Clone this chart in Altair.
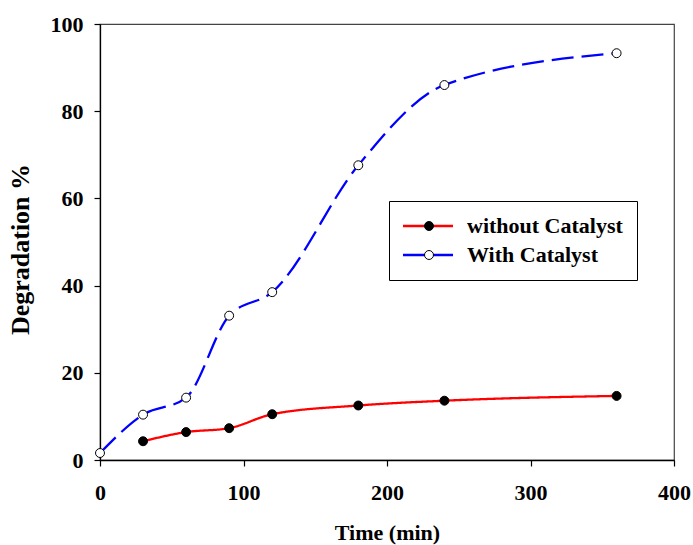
import altair as alt
import pandas as pd

# ---- data ----
series_names = ["without Catalyst", "With Catalyst"]
point_keys = ["pt_without", "pt_with"]
time_without = [30, 60, 90, 120, 180, 240, 360]
deg_without = [4.3, 6.4, 7.3, 10.5, 12.5, 13.6, 14.7]
time_with = [0, 30, 60, 90, 120, 180, 240, 360]
deg_with = [1.6, 10.4, 14.3, 33.1, 38.5, 67.6, 86.0, 93.3]
x_ticks = [0, 100, 200, 300, 400]
y_ticks = [0, 20, 40, 60, 80, 100]

rows = []
for t, v in zip(time_without, deg_without):
    rows.append({"time": t, "deg": v, "series": series_names[0], "series_pt": point_keys[0]})
for t, v in zip(time_with, deg_with):
    rows.append({"time": t, "deg": v, "series": series_names[1], "series_pt": point_keys[1]})
df = pd.DataFrame(rows)

FONT = "Liberation Serif"

x = alt.X(
    "time:Q",
    scale=alt.Scale(domain=[0, 400], nice=False, zero=False),
    axis=alt.Axis(
        values=x_ticks, title="Time (min)", tickSize=6, labelPadding=16,
        labelFlush=False,
        titleX=287, titleY=79, titleBaseline="alphabetic", titleAlign="center",
    ),
)
y = alt.Y(
    "deg:Q",
    scale=alt.Scale(domain=[0, 100], nice=False),
    axis=alt.Axis(
        values=y_ticks, title="Degradation %", tickSize=6, labelPadding=11,
        labelFlush=False,
        titleX=-72, titleY=225, titleAngle=270, titleBaseline="alphabetic",
        titleAlign="center", titleFontSize=26,
    ),
)

lines = alt.Chart(df).mark_line(interpolate="monotone", strokeWidth=2.3).encode(
    x=x,
    y=y,
    stroke=alt.Stroke(
        "series:N",
        scale=alt.Scale(domain=series_names, range=["#ff0000", "#0000ff"]),
        legend=alt.Legend(
            title=None, orient="none", legendX=289, legendY=177,
            symbolType="M-5,0H5", symbolSize=100, symbolStrokeWidth=2.5,
            symbolDash=[1, 0],
            symbolOffset=14, labelOffset=28, padding=14, rowPadding=7,
            strokeColor="black", fillColor="white",
            labelFont=FONT, labelFontSize=22, labelFontWeight="bold",
            labelColor="black", labelLimit=400,
        ),
    ),
    strokeDash=alt.StrokeDash(
        "series:N",
        scale=alt.Scale(domain=series_names, range=[[1, 0], [22, 8]]),
        legend=None,
    ),
)

points = alt.Chart(df).mark_point(
    shape="circle", filled=True, size=80, stroke="black", strokeWidth=1,
    opacity=1, fillOpacity=1,
).encode(
    x=x,
    y=y,
    fill=alt.Fill(
        "series_pt:N",
        scale=alt.Scale(domain=point_keys, range=["black", "white"]),
        legend=alt.Legend(
            title=None, orient="none", legendX=289, legendY=177,
            symbolType="circle", symbolSize=80, symbolStrokeColor="black",
            symbolStrokeWidth=1, symbolOffset=15, padding=14, rowPadding=7,
            labelFont=FONT, labelFontSize=22, labelFontWeight="bold",
            labelColor="transparent", labelLimit=400, labelExpr="''",
        ),
    ),
)

chart = alt.layer(lines, points).properties(
    width=574,
    height=436,
    background="white",
    autosize=alt.AutoSizeParams(type="none"),
    padding={"left": 100, "top": 24, "right": 19, "bottom": 85},
).configure_view(
    stroke="#444444", strokeWidth=1.2
).configure_axis(
    grid=False,
    domainColor="black", domainWidth=1.3,
    tickColor="black", tickWidth=1.2,
    labelFont=FONT, labelFontSize=22, labelFontWeight="bold", labelColor="black",
    titleFont=FONT, titleFontSize=22, titleFontWeight="bold", titleColor="black",
)

chart.save("out.html", embed_options={"renderer": "svg", "actions": False})
